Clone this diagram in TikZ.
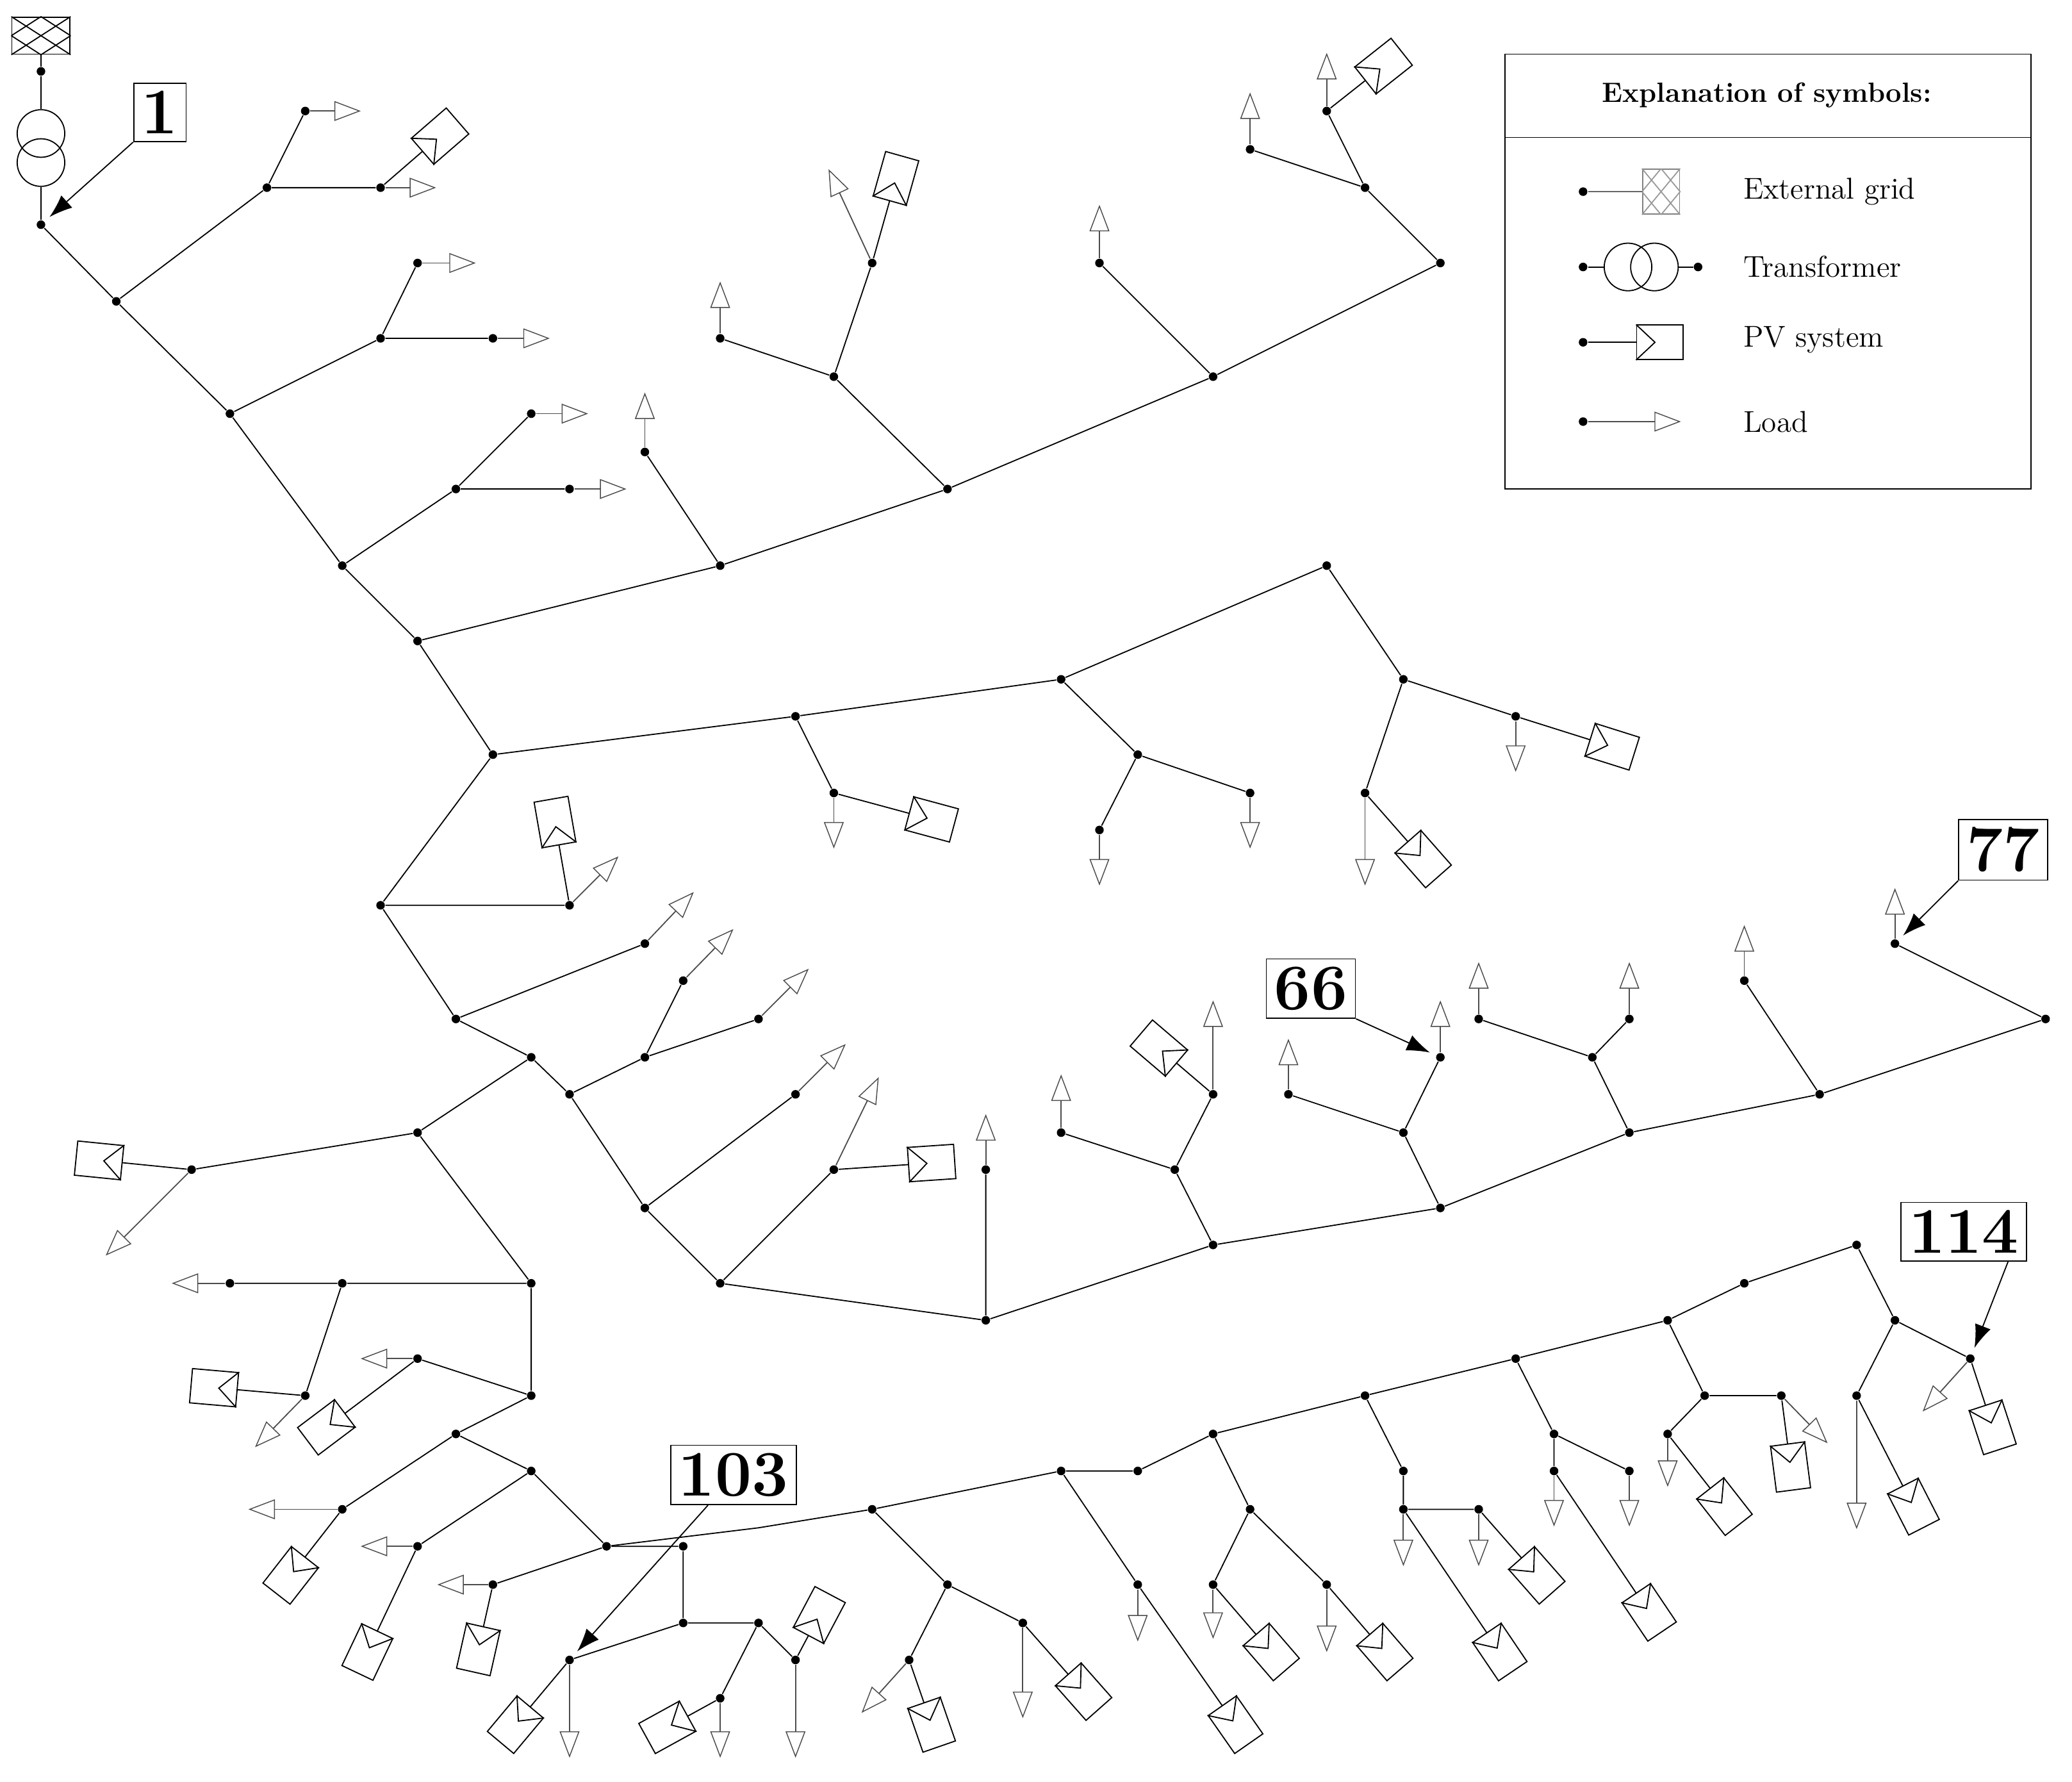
\documentclass[tikz,border=0pt]{standalone}
\usetikzlibrary{arrows.meta,calc}
\begin{document}
\begin{tikzpicture}[x=0.2mm,y=-0.2mm,line width=0.5pt,
 bus/.style={circle,fill=black,inner sep=0pt,minimum size=1.3mm},
 ld/.style={-{Triangle[open,length=4mm,width=3mm,line width=0.4pt]},draw=black!70},
 pvbox/.style={draw,fill=white,rectangle,minimum width=7mm,minimum height=5.2mm,inner sep=0pt},
 lbl/.style={draw,fill=white,font=\fontsize{28}{30}\selectfont\bfseries,inner sep=1.2mm},
 lar/.style={-{Latex[length=3.5mm,width=2.5mm]},shorten >=1mm}]
\useasboundingbox (0,0) rectangle (1568,1348);
\newcounter{pvc}
\newcommand\pv[3]{\stepcounter{pvc}\draw (#1) -- (#2,#3) node[pvbox,pos=1,sloped,allow upside down,name=pv\thepvc]{};
 \draw (pv\thepvc.north west) -- ($(pv\thepvc.west)!0.4!(pv\thepvc.east)$) -- (pv\thepvc.south west);}
\newcommand\ldd[3]{\draw[ld] (#1) -- (#2,#3);}
\newcommand\xhatch[2]{% node name, colour
 \draw[#2] (#1.north west) -- (#1.south east) (#1.north) -- (#1.east) (#1.west) -- (#1.south)
  (#1.north east) -- (#1.south west) (#1.north) -- (#1.west) (#1.east) -- (#1.south);}
% buses
\foreach \n/\x/\y in {g0/31/54,n1/31/170,n2/88/228,n3/174/313,n4/259/428,n5/316/485,n6/373/571,n7/288/685,n8/345/771,n9/402/800,
a1/202/142,a2/231/84,a3/288/142,b1/288/256,b2/316/199,b3/373/256,c1/345/370,c2/402/313,c3/431/370,
d1/545/428,d2/488/342,d3/717/370,d4/631/285,d5/545/256,d6/660/199,d7/918/285,d8/832/199,d9/1090/199,d10/1033/142,d11/946/113,d12/1004/84,
e1/602/542,e2/631/600,e3/803/514,e4/861/571,e5/832/628,e6/946/600,e7/1004/428,e8/1062/514,e9/1147/542,e10/1033/600,
f1/431/685,f2/488/714,
h1/316/857,h2/145/885,h3/402/971,h4/259/971,h5/174/971,h6/231/1056,h7/402/1056,h8/316/1028,h9/345/1085,h10/259/1142,h11/402/1113,h12/316/1170,h13/459/1170,h14/373/1199,h15/517/1170,h16/517/1228,h17/431/1256,h18/574/1228,h19/545/1285,h20/602/1256,
s2/660/1142,s3/803/1113,s4/861/1113,s5/918/1085,s6/1033/1056,s7/1147/1028,s8/1262/999,s9/1320/971,s10/1405/942,s11/1434/999,s12/1491/1028,
t1/717/1199,t2/688/1256,t3/774/1228,t4/861/1199,t5/946/1142,t6/918/1199,t7/1004/1199,t8/1062/1113,t9/1062/1142,t10/1119/1142,t11/1176/1085,t12/1233/1113,t13/1176/1113,t14/1290/1056,t15/1348/1056,t16/1262/1085,t17/1405/1056,
m1/431/828,m2/488/914,m3/545/971,m4/746/999,m5/918/942,m6/1090/914,m7/1233/857,m8/1377/828,m9/1548/771,m10/1434/714,
p1/488/800,p2/517/742,p3/574/771,p4/602/828,p5/631/885,p6/746/885,p7/889/885,p8/803/857,p9/918/828,p10/1062/857,p11/975/828,p12/1090/800,p13/1205/800,p14/1119/771,p15/1233/771,p16/1320/742}
 \node[bus] (\n) at (\x,\y) {};
\coordinate (s1) at (574,1156);
% grid and transformer
\node[draw,minimum width=8.8mm,minimum height=5.6mm,inner sep=0pt] (grid) at (31,27) {};
\xhatch{grid}{black}
\node[draw,circle,minimum size=7.2mm,inner sep=0pt] (tr1) at (31,101) {};
\node[draw,circle,minimum size=7.2mm,inner sep=0pt] (tr2) at (31,123) {};
\draw (grid) -- (g0) -- (tr1); \draw (tr2) -- (n1);
% edges
\draw (n1)--(n2)--(n3)--(n4)--(n5)--(n6)--(n7)--(n8)--(n9);
\draw (n2)--(a1) (a1)--(a2) (a1)--(a3) (n3)--(b1) (b1)--(b2) (b1)--(b3) (n4)--(c1) (c1)--(c2) (c1)--(c3);
\draw (n5)--(d1)--(d3)--(d7)--(d9) (d1)--(d2) (d3)--(d4) (d4)--(d5) (d4)--(d6) (d7)--(d8) (d9)--(d10) (d10)--(d11) (d10)--(d12);
\draw (n6)--(e1)--(e3)--(e7) (e1)--(e2) (e3)--(e4) (e4)--(e5) (e4)--(e6) (e7)--(e8) (e8)--(e9) (e8)--(e10);
\draw (n7)--(f1) (n8)--(f2);
\draw (n9)--(h1) (h1)--(h2) (h1)--(h3) (h3)--(h4) (h4)--(h5) (h4)--(h6) (h3)--(h7) (h7)--(h8) (h7)--(h9) (h9)--(h10) (h9)--(h11) (h11)--(h13) (h11)--(h12) (h13)--(h14) (h13)--(h15) (h15)--(h16) (h16)--(h17) (h16)--(h18) (h18)--(h19) (h18)--(h20);
\draw (h13)--(s1)--(s2)--(s3)--(s4)--(s5)--(s6)--(s7)--(s8)--(s9)--(s10)--(s11)--(s12);
\draw (s2)--(t1) (t1)--(t2) (t1)--(t3) (s3)--(t4) (s5)--(t5) (t5)--(t6) (t5)--(t7) (s6)--(t8) (t8)--(t9) (t9)--(t10) (s7)--(t11) (t11)--(t12) (t11)--(t13) (s8)--(t14) (t14)--(t15) (t14)--(t16) (s11)--(t17);
\draw (n9)--(m1)--(m2)--(m3)--(m4)--(m5)--(m6)--(m7)--(m8)--(m9)--(m10);
\draw (m1)--(p1) (p1)--(p2) (p1)--(p3) (m2)--(p4) (m3)--(p5) (m4)--(p6) (m5)--(p7) (p7)--(p8) (p7)--(p9) (m6)--(p10) (p10)--(p11) (p10)--(p12) (m7)--(p13) (p13)--(p14) (p13)--(p15) (m8)--(p16);
% loads
\ldd{a2}{273}{84}\ldd{a3}{330}{142}\ldd{b2}{360}{199}\ldd{b3}{416}{256}\ldd{c2}{445}{313}\ldd{c3}{474}{370}
\ldd{d2}{488}{297}\ldd{d5}{545}{213}\ldd{d6}{627}{128}\ldd{d8}{832}{155}\ldd{d11}{946}{70}\ldd{d12}{1004}{40}
\ldd{e2}{631}{642}\ldd{e5}{832}{670}\ldd{e6}{946}{642}\ldd{e9}{1147}{584}\ldd{e10}{1033}{670}
\ldd{f1}{468}{648}\ldd{f2}{525}{675}
\ldd{h2}{80}{950}\ldd{h5}{130}{971}\ldd{h6}{193}{1095}\ldd{h8}{273}{1028}\ldd{h10}{188}{1142}\ldd{h12}{273}{1170}\ldd{h14}{331}{1199}
\ldd{h17}{431}{1330}\ldd{h19}{545}{1330}\ldd{h20}{602}{1330}
\ldd{t2}{652}{1296}\ldd{t3}{774}{1300}\ldd{t4}{861}{1242}\ldd{t6}{918}{1240}\ldd{t7}{1004}{1250}\ldd{t9}{1062}{1185}\ldd{t10}{1119}{1185}
\ldd{t12}{1233}{1155}\ldd{t13}{1176}{1155}\ldd{t15}{1383}{1092}\ldd{t16}{1262}{1125}\ldd{t17}{1405}{1157}\ldd{s12}{1455}{1068}
\ldd{m10}{1434}{672}\ldd{p2}{555}{703}\ldd{p3}{612}{733}\ldd{p4}{640}{790}\ldd{p5}{665}{815}\ldd{p6}{746}{843}\ldd{p8}{803}{813}
\ldd{p9}{918}{757}\ldd{p11}{975}{786}\ldd{p12}{1090}{757}\ldd{p14}{1119}{728}\ldd{p15}{1233}{728}\ldd{p16}{1320}{700}
% PV
\pv{a3}{333}{103}\pv{d6}{678}{135}\pv{d12}{1047}{50}\pv{e2}{705}{620}\pv{e9}{1220}{565}\pv{e10}{1077}{650}
\pv{f1}{420}{622}\pv{h2}{75}{878}\pv{h6}{162}{1050}\pv{h8}{247}{1080}\pv{h10}{220}{1192}\pv{h12}{278}{1250}\pv{h14}{362}{1248}
\pv{h17}{390}{1305}\pv{h19}{505}{1307}\pv{h20}{620}{1222}\pv{t2}{705}{1305}\pv{t3}{820}{1280}\pv{t4}{935}{1305}\pv{t6}{962}{1250}
\pv{t7}{1048}{1250}\pv{t9}{1135}{1250}\pv{t10}{1163}{1192}\pv{t13}{1248}{1220}\pv{t15}{1355}{1110}\pv{t16}{1305}{1140}
\pv{t17}{1448}{1140}\pv{s12}{1508}{1080}\pv{p5}{705}{880}\pv{p9}{877}{793}
% labels
\node[lbl] (L1) at (121,85) {1};
\draw[lar] (L1.south west) -- (n1);
\node[lbl] (L77) at (1516,643) {77};
\draw[lar] (L77.south west) -- (m10);
\node[lbl] (L66) at (992,748) {66};
\draw[lar] (L66.south east) -- (p12);
\node[lbl] (L103) at (555,1116) {103};
\draw[lar] ($(L103.south west)!0.3!(L103.south east)$) -- (h17);
\node[lbl] (L114) at (1486,932) {114};
\draw[lar] ($(L114.south west)!0.85!(L114.south east)$) -- (s12);
% legend
\node[draw,minimum width=79.6mm,minimum height=65.8mm,inner sep=0pt] (leg) at (1338,205.5) {};
\draw (1139,104) -- (1537,104);
\node[font=\fontsize{12}{14}\selectfont\bfseries] (lt) at (1337,72) {Explanation of symbols:};
\tikzset{lg/.style={font=\fontsize{13}{15}\selectfont,anchor=west}}
\node[bus] (l1) at (1198,145) {};
\node[draw=black!50,minimum width=5.6mm,minimum height=6.8mm,inner sep=0pt] (lg1) at (1257,145) {};
\xhatch{lg1}{black!40}
\draw[black!60] (l1) -- (lg1);
\node[lg] (tx1) at (1313,145) {External grid};
\node[bus] (l2) at (1198,202) {};
\node[draw,circle,minimum size=7.2mm,inner sep=0pt] (lc1) at (1232,202) {};
\node[draw,circle,minimum size=7.2mm,inner sep=0pt] (lc2) at (1252,202) {};
\node[bus] (l2b) at (1285,202) {};
\draw (l2) -- (lc1) (lc2) -- (l2b);
\node[lg] (tx2) at (1313,202) {Transformer};
\node[bus] (l3) at (1198,259) {};
\pv{l3}{1256}{259}
\node[lg] (tx3) at (1313,257) {PV system};
\node[bus] (l4) at (1198,319) {};
\draw[ld] (l4) -- (1272,319);
\node[lg] (tx4) at (1313,319) {Load};
\end{tikzpicture}
\end{document}
